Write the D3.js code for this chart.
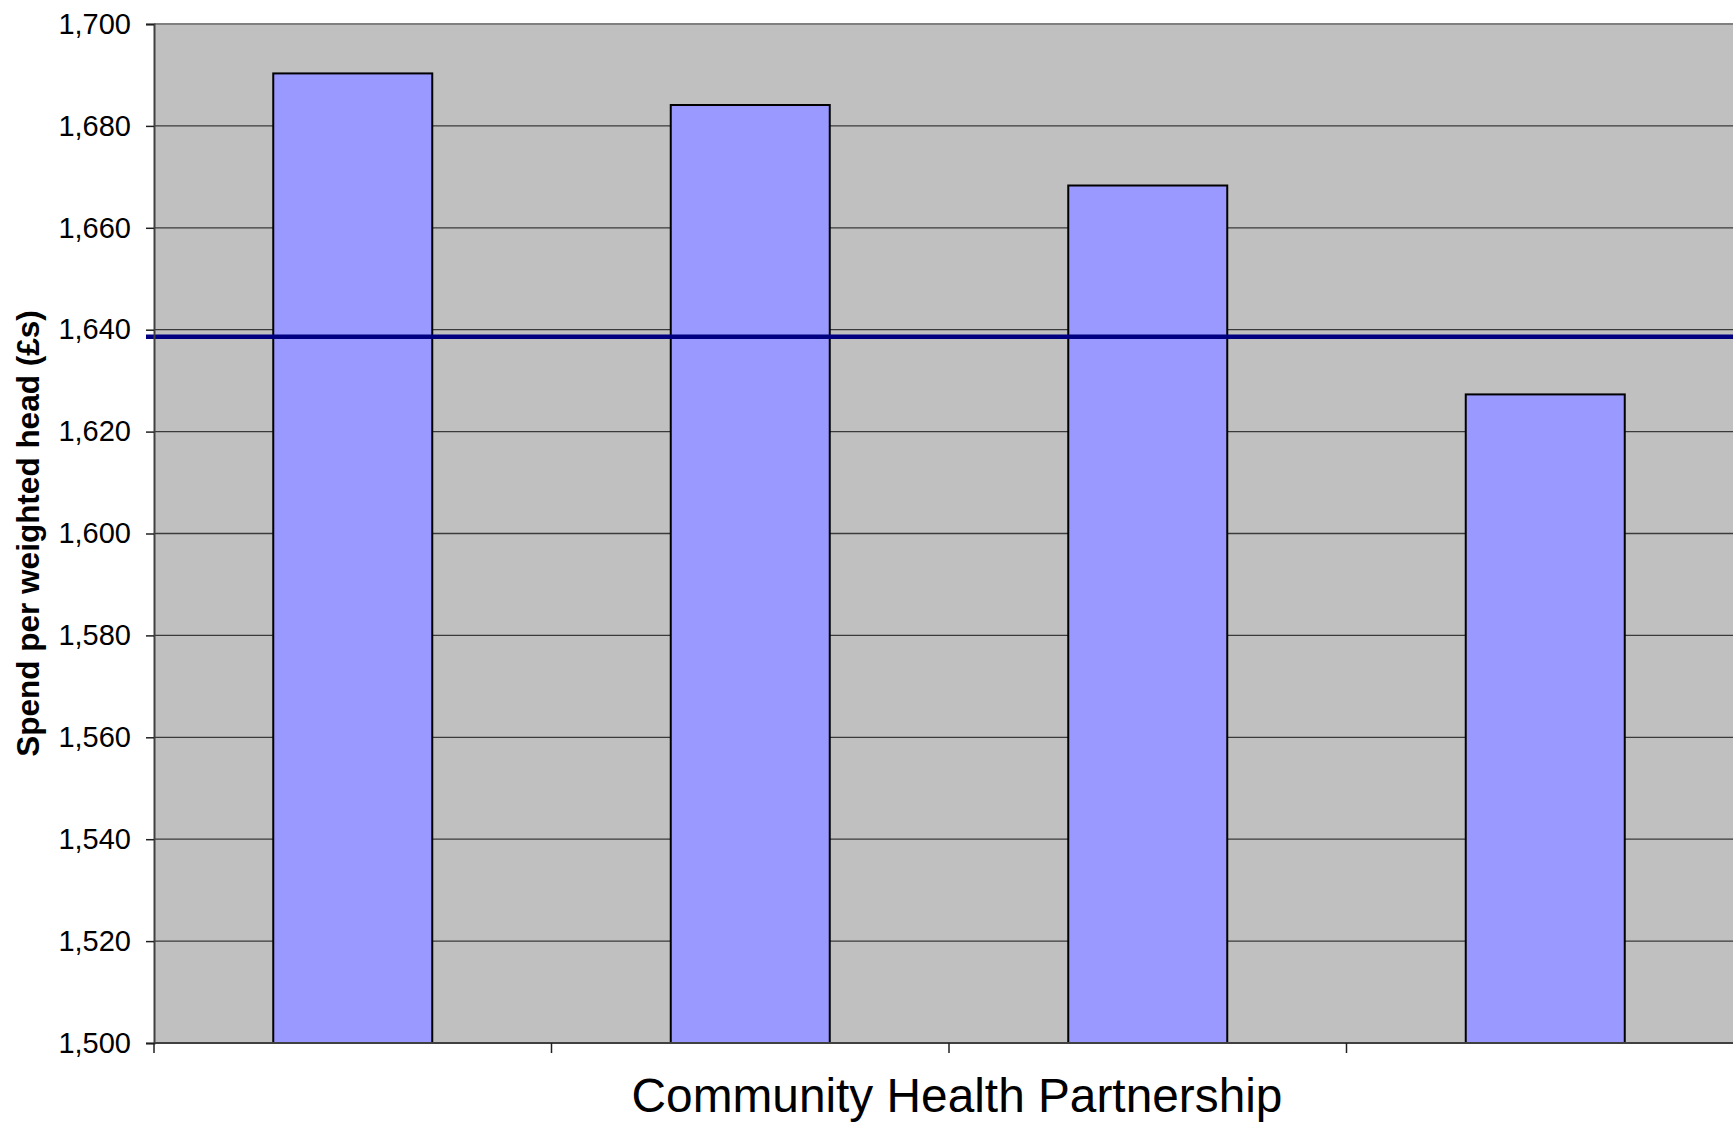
<!DOCTYPE html>
<html>
<head>
<meta charset="utf-8">
<script src="https://cdn.jsdelivr.net/npm/d3@7"></script>
<style>
  html, body { margin: 0; padding: 0; background: #fff; }
  svg { display: block; }
  text { font-family: "Liberation Sans", Arial, sans-serif; }
</style>
</head>
<body>
<svg id="chart" width="1733" height="1122"></svg>
<script>
// Spend per weighted head by Community Health Partnership
const categories = ["CHP A", "CHP B", "CHP C", "CHP D"];
const spend = [1690.3, 1684.1, 1668.3, 1627.3];
const average = 1638.6;
const yTicks = [1500, 1520, 1540, 1560, 1580, 1600, 1620, 1640, 1660, 1680, 1700];

const svg = d3.select("#chart");
const plot = { left: 154, top: 24, right: 1744, bottom: 1043 };

const x = d3.scaleBand()
  .domain(categories)
  .range([plot.left, plot.right])
  .paddingInner(0.6)
  .paddingOuter(0.3);

const y = d3.scaleLinear()
  .domain([1500, 1700])
  .range([plot.bottom, plot.top]);

// plot background
svg.append("rect")
  .attr("x", plot.left).attr("y", plot.top)
  .attr("width", plot.right - plot.left)
  .attr("height", plot.bottom - plot.top)
  .attr("fill", "#c0c0c0");

// horizontal gridlines
svg.append("g")
  .selectAll("line")
  .data(yTicks.slice(1, -1))
  .join("line")
  .attr("x1", plot.left).attr("x2", plot.right)
  .attr("y1", d => y(d)).attr("y2", d => y(d))
  .attr("stroke", "#3a3a3a")
  .attr("stroke-width", 1.3);

// top border
svg.append("line")
  .attr("x1", plot.left).attr("x2", plot.right)
  .attr("y1", plot.top).attr("y2", plot.top)
  .attr("stroke", "#808080").attr("stroke-width", 2);

// bars
svg.append("g")
  .selectAll("rect")
  .data(categories.map((c, i) => ({ c, v: spend[i] })))
  .join("rect")
  .attr("x", d => x(d.c))
  .attr("y", d => y(d.v))
  .attr("width", x.bandwidth())
  .attr("height", d => y(1500) - y(d.v))
  .attr("fill", "#9999ff")
  .attr("stroke", "#000")
  .attr("stroke-width", 2);

// average line
svg.append("line")
  .attr("x1", plot.left - 8).attr("x2", plot.right)
  .attr("y1", y(average)).attr("y2", y(average))
  .attr("stroke", "#000080")
  .attr("stroke-width", 4.5);

// y axis
const yAxis = d3.axisLeft(y)
  .tickValues(yTicks)
  .tickSize(8)
  .tickPadding(15)
  .tickFormat(d3.format(","));
const gy = svg.append("g")
  .attr("transform", `translate(${plot.left},0)`)
  .call(yAxis);
gy.select(".domain").attr("stroke", "#404040").attr("stroke-width", 2);
gy.selectAll(".tick line").attr("stroke", "#202020").attr("stroke-width", 1.5);
gy.selectAll(".tick text")
  .attr("font-size", 29)
  .attr("fill", "#000")
  .style("font-family", "'Liberation Sans', Arial, sans-serif");

// x axis (category separators)
const sepTicks = d3.range(categories.length).map(i => Math.max(plot.left, x(categories[i]) - x.step() * x.paddingInner() / 2));
const gx = svg.append("g");
gx.append("line")
  .attr("x1", plot.left).attr("x2", plot.right)
  .attr("y1", plot.bottom).attr("y2", plot.bottom)
  .attr("stroke", "#404040").attr("stroke-width", 2);
gx.selectAll("line.sep")
  .data(sepTicks)
  .join("line")
  .attr("class", "sep")
  .attr("x1", d => d)
  .attr("x2", d => d)
  .attr("y1", plot.bottom).attr("y2", plot.bottom + 10)
  .attr("stroke", "#202020").attr("stroke-width", 1.5);

// axis titles
svg.append("text")
  .attr("transform", `translate(39, ${(plot.top + plot.bottom) / 2}) rotate(-90)`)
  .attr("text-anchor", "middle")
  .attr("font-size", 31.5)
  .attr("font-weight", "bold")
  .text("Spend per weighted head (£s)");

svg.append("text")
  .attr("x", 957)
  .attr("y", 1112)
  .attr("text-anchor", "middle")
  .attr("font-size", 47.8)
  .text("Community Health Partnership");
</script>
</body>
</html>
